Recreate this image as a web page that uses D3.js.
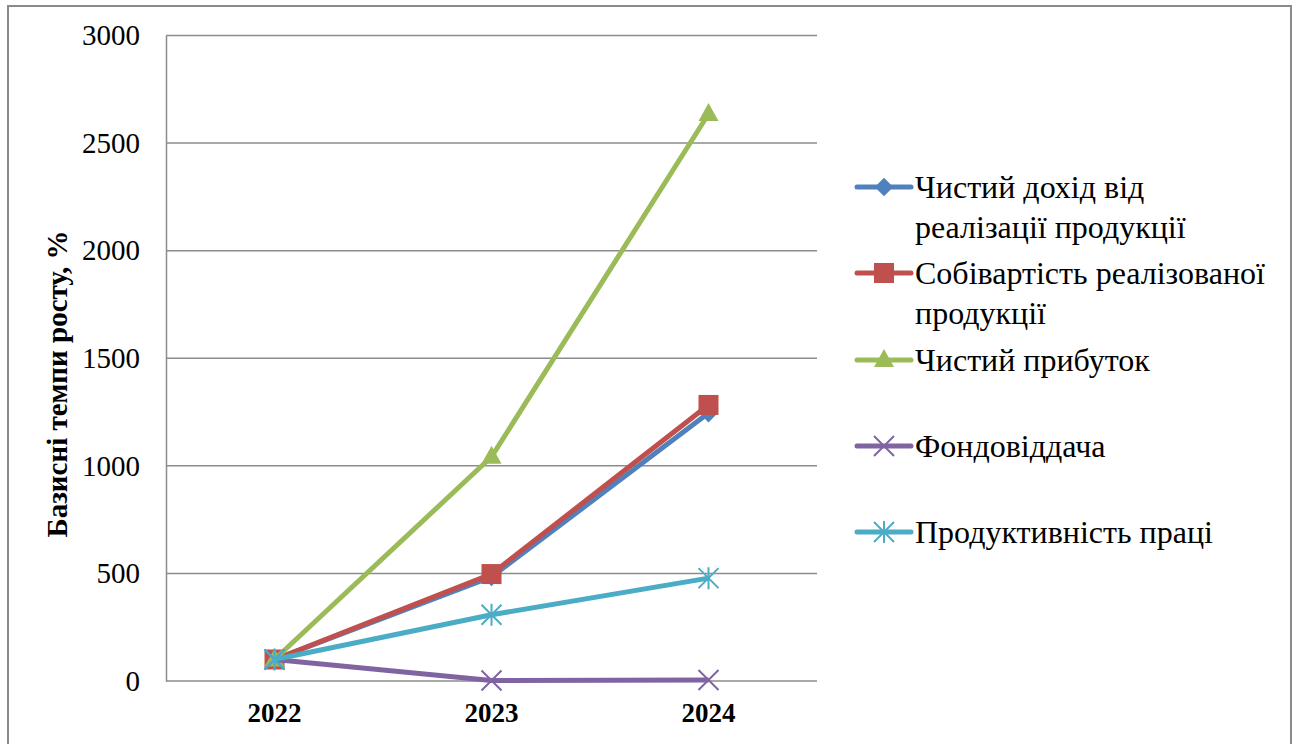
<!DOCTYPE html>
<html>
<head>
<meta charset="utf-8">
<script src="https://cdn.jsdelivr.net/npm/d3@7"></script>
</head>
<body style="margin:0;background:#fff">
<svg id="chart" width="1299" height="744" style="display:block"></svg>
<script>
// Years on the category axis
const years = ["2022", "2023", "2024"];

// Base growth rates, % (2022 = 100)
const netRevenue   = [100, 484, 1245];
const costOfSales  = [100, 497, 1283];
const netProfit    = [100, 1042, 2635];
const assetReturn  = [100, 2, 5];
const laborProduct = [100, 308, 478];

const seriesNames = [
  ["Чистий дохід від", "реалізації продукції"],
  ["Собівартість реалізованої", "продукції"],
  ["Чистий прибуток"],
  ["Фондовіддача"],
  ["Продуктивність праці"]
];
const yTicks = [0, 500, 1000, 1500, 2000, 2500, 3000];

const colors = ["#4F81BD", "#C0504D", "#9BBB59", "#8064A2", "#4BACC6"];
const markers = ["diamond", "square", "triangle", "x", "star"];
const series = [netRevenue, costOfSales, netProfit, assetReturn, laborProduct].map((v, i) => ({
  name: seriesNames[i], values: v, color: colors[i], marker: markers[i]
}));

const FONT = "'Liberation Serif', 'Times New Roman', serif";
const svg = d3.select("#chart");

// Outer chart frame
svg.append("rect")
  .attr("x", 8).attr("y", 6).attr("width", 1283).attr("height", 760)
  .attr("fill", "none").attr("stroke", "#8a8a8a").attr("stroke-width", 2);

const plot = { left: 166, right: 817, top: 35.5, bottom: 681 };

const x = d3.scaleBand().domain(years).range([plot.left, plot.right]);
const y = d3.scaleLinear().domain([0, 3000]).range([plot.bottom, plot.top]);
const cx = d => x(d) + x.bandwidth() / 2;

// Horizontal gridlines
svg.append("g").selectAll("line").data(yTicks).join("line")
  .attr("x1", plot.left).attr("x2", plot.right)
  .attr("y1", d => y(d)).attr("y2", d => y(d))
  .attr("stroke", "#8c8c8c").attr("stroke-width", 1.5);

// Value axis
const yAxis = svg.append("g")
  .attr("transform", `translate(${plot.left},0)`)
  .call(d3.axisLeft(y).tickValues(yTicks).tickFormat(d3.format("d")).tickSize(0).tickPadding(26));
yAxis.select(".domain").attr("stroke", "#8c8c8c").attr("stroke-width", 1.5);
yAxis.selectAll("text")
  .style("font-family", FONT).style("font-size", "29px").attr("fill", "#000");

// Category axis
const xAxis = svg.append("g")
  .attr("transform", `translate(0,${plot.bottom})`)
  .call(d3.axisBottom(x).tickSize(0).tickPadding(22));
xAxis.select(".domain").remove();
xAxis.selectAll("text")
  .style("font-family", FONT).style("font-size", "27px").style("font-weight", "bold")
  .attr("fill", "#000");

// Axis title
svg.append("text")
  .attr("transform", "translate(67,384) rotate(-90)")
  .attr("text-anchor", "middle")
  .style("font-family", FONT).style("font-size", "29px").style("font-weight", "bold")
  .text("Базисні темпи росту, %");

// Marker shapes
function drawMarker(g, type, color, px, py, s) {
  if (type === "diamond") {
    g.append("path").attr("d", d3.symbol(d3.symbolDiamond2, s * s * 0.55)())
      .attr("transform", `translate(${px},${py})`).attr("fill", color);
  } else if (type === "square") {
    g.append("rect").attr("x", px - s / 2).attr("y", py - s / 2)
      .attr("width", s).attr("height", s).attr("fill", color);
  } else if (type === "triangle") {
    const h = s * 0.9;
    g.append("path")
      .attr("d", `M${px},${py - h / 2 - 2}L${px + s / 2},${py + h / 2 - 2}L${px - s / 2},${py + h / 2 - 2}Z`)
      .attr("fill", color);
  } else if (type === "x") {
    const r = s / 2;
    g.append("path").attr("d", `M${px - r},${py - r}L${px + r},${py + r}M${px - r},${py + r}L${px + r},${py - r}`)
      .attr("stroke", color).attr("stroke-width", 2).attr("fill", "none");
  } else if (type === "star") {
    const r = s / 2;
    g.append("path").attr("d",
      `M${px - r},${py - r}L${px + r},${py + r}M${px - r},${py + r}L${px + r},${py - r}M${px},${py - r * 1.1}L${px},${py + r * 1.1}`)
      .attr("stroke", color).attr("stroke-width", 2).attr("fill", "none");
  }
}

const line = d3.line().x((d, i) => cx(years[i])).y(d => y(d));

// Series lines with markers
series.forEach(s => {
  const g = svg.append("g");
  g.append("path").datum(s.values).attr("d", line)
    .attr("fill", "none").attr("stroke", s.color).attr("stroke-width", 5)
    .attr("stroke-linejoin", "round");
  s.values.forEach((v, i) => drawMarker(g, s.marker, s.color, cx(years[i]), y(v), 20));
});

// Legend
const legendRows = [187, 273, 360, 446, 532];
const lg = svg.append("g");
series.forEach((s, i) => {
  const ly = legendRows[i];
  lg.append("line").attr("x1", 857).attr("x2", 911).attr("y1", ly).attr("y2", ly)
    .attr("stroke", s.color).attr("stroke-width", 5).attr("stroke-linecap", "round");
  drawMarker(lg, s.marker, s.color, 884, ly, 20);
  s.name.forEach((t, j) => {
    lg.append("text").attr("x", 915).attr("y", ly + 11 + j * 40)
      .style("font-family", FONT).style("font-size", "32px").attr("fill", "#000").text(t);
  });
});
</script>
</body>
</html>
